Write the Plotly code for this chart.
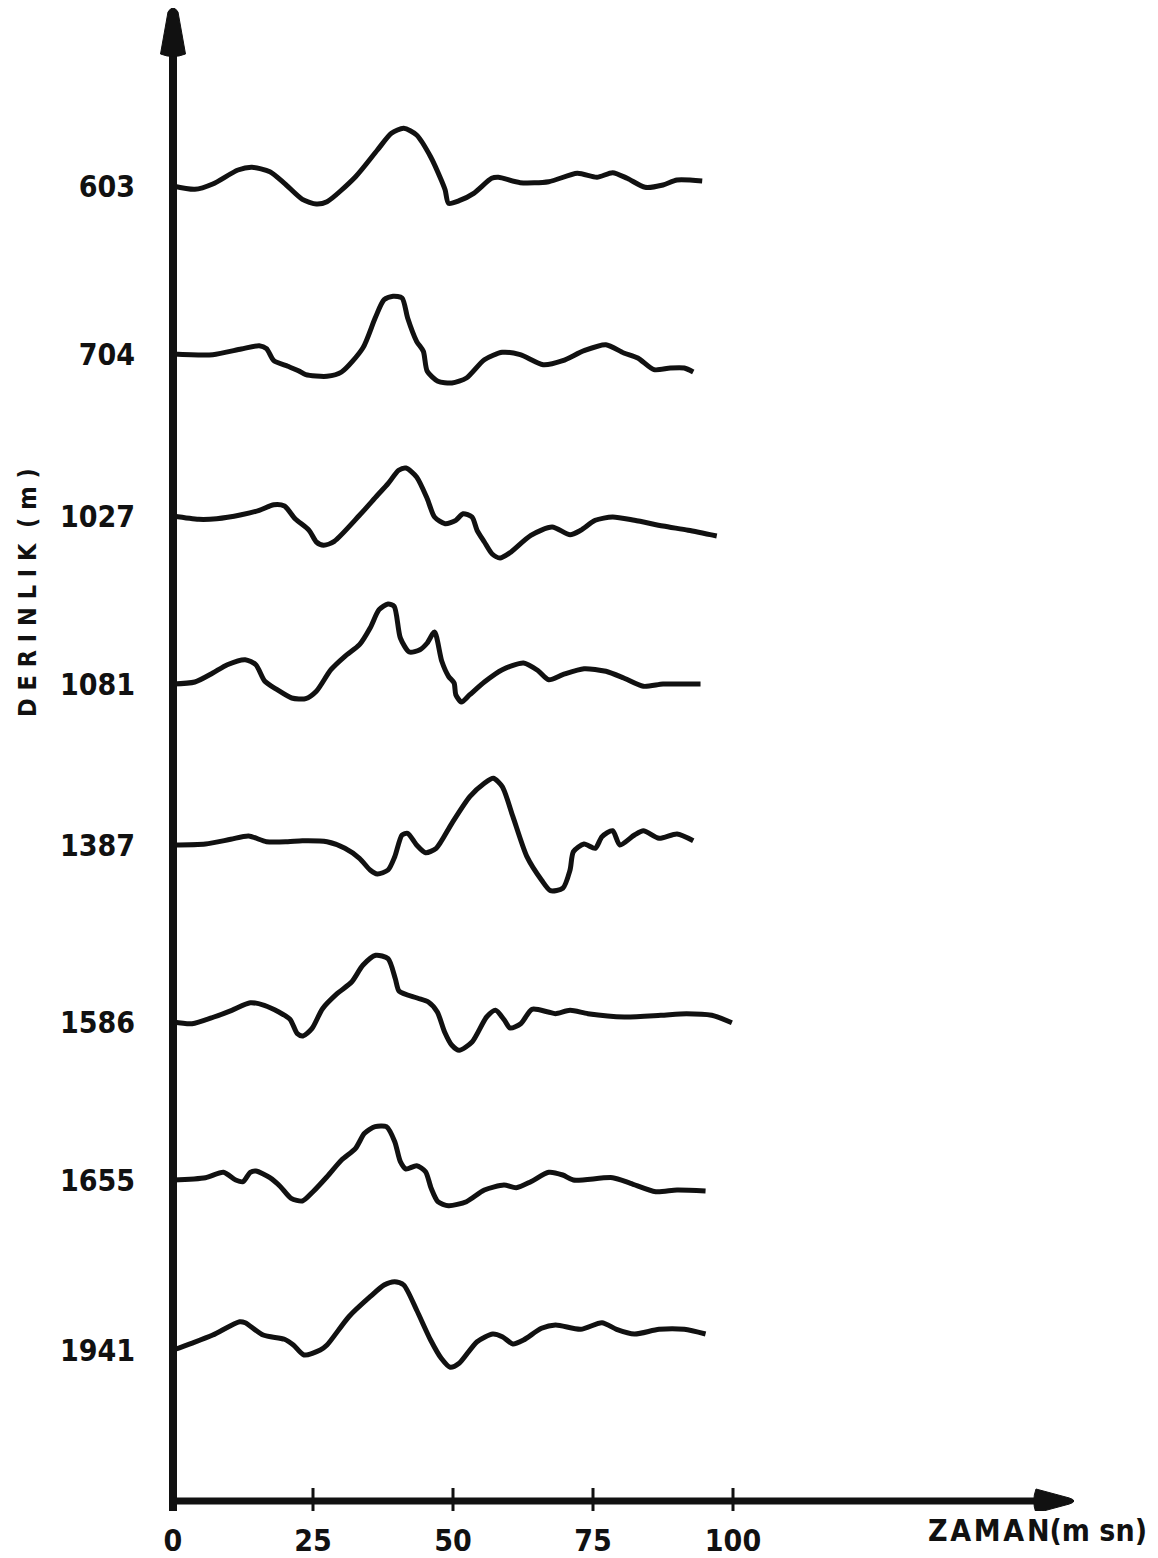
import plotly.graph_objects as go

# ---------------- data (time in ms, amplitude in plot units) ----------------
depths = ["603", "704", "1027", "1081", "1387", "1586", "1655", "1941"]
time_ticks = [0, 25, 50, 75, 100]
time_tick_text = ["0", "25", "50", "75", "100"]

t_603 = [0, 3.9, 7.1, 11.6, 14.1, 17.3, 19.9, 23.1, 25.6, 27.5, 32.6, 36.5, 39.0, 41.2, 43.5, 46.0, 47.9, 48.6,
         49.2, 51.1, 53.7, 56.9, 58.1, 62.0, 67.1, 72.2, 75.7, 78.5, 81.1, 84.3, 87.5, 90.0, 94.5]
a_603 = [0, -3.3, 2, 16, 18.7, 14.3, 2.7, -13.3, -18, -15.7, 9.3, 36, 52.7, 57.7, 51, 29.3, 6, -4,
         -17.3, -14.7, -7.3, 7.7, 8.7, 3.3, 4.3, 12.7, 8.7, 13.3, 7.7, -1.3, 1, 6, 5]

t_704 = [0, 7.1, 12.2, 15.4, 16.7, 18.0, 20.5, 22.4, 23.7, 27.5, 30.1, 33.9, 36.1, 37.7, 39.3, 40.9, 41.9, 43.5,
         44.7, 45.4, 47.3, 49.8, 52.4, 55.6, 58.8, 62.0, 66.1, 69.6, 73.4, 77.3, 80.5, 83.0, 85.9, 88.8, 91.3, 92.9]
a_704 = [0, -0.7, 5, 8.3, 5.3, -6.7, -12.3, -16.7, -20.7, -22.3, -18, 6, 36, 54.3, 57.7, 56, 36, 12.7,
         2.7, -17.3, -27.3, -29, -24, -5.7, 1.7, -0.7, -10.7, -6.7, 3.3, 9.3, 1, -4, -15.7, -14, -14, -18]

t_1027 = [0, 4.6, 7.8, 12.2, 15.4, 18.0, 19.9, 21.8, 24.3, 25.6, 26.9, 28.8, 33.3, 36.5, 38.4, 40.3, 41.6, 43.5,
          45.4, 46.7, 48.6, 50.5, 51.8, 53.4, 54.3, 55.6, 57.0, 58.4, 60.1, 63.9, 67.7, 70.9, 72.8, 75.4, 78.5,
          82.4, 87.5, 92.0, 97.1]
a_1027 = [0, -3.3, -2.7, 1.3, 5.7, 11.3, 10, -2.7, -14.3, -26, -29.3, -25.3, 0.7, 20.7, 32.3, 45.7, 48, 39,
          17.3, -1, -7.7, -4.3, 2.3, -1, -14.3, -26, -38, -42, -37, -19.3, -11, -18.7, -14.3, -4.3, -1,
          -4.3, -10, -14.3, -20]

t_1081 = [0, 3.9, 7.1, 9.7, 12.9, 14.8, 16.4, 18.6, 21.2, 23.7, 25.6, 28.2, 30.7, 33.3, 35.2, 36.8, 38.4, 39.5,
          40.6, 42.2, 44.1, 45.4, 46.7, 48.0, 49.2, 50.2, 50.5, 51.5, 53.0, 55.6, 58.8, 62.6, 65.2, 67.1, 69.6,
          73.4, 77.3, 80.5, 84.0, 87.5, 91.3, 94.2]
a_1081 = [0, 2, 11, 19.3, 24.3, 19.3, 2.7, -5.7, -14, -14.7, -7.3, 14.3, 27.7, 39.3, 56, 74.3, 80, 77.7,
          46, 32, 34.3, 41, 52, 22.7, 7.7, 1, -10.7, -18, -10.7, 2, 14.3, 21, 13.3, 4.3, 9.3,
          15.3, 12.7, 6, -2.3, 0, 0, 0]

t_1387 = [0, 5.8, 10.3, 13.5, 16.7, 20.5, 23.1, 27.5, 30.7, 33.3, 35.2, 36.5, 38.4, 39.6, 40.9, 41.9, 43.5, 45.1,
          47.0, 49.8, 53.0, 55.6, 57.2, 58.8, 60.7, 63.2, 65.8, 67.4, 69.6, 70.9, 71.5, 73.4, 75.4, 76.6, 78.5,
          79.8, 82.4, 84.0, 86.8, 90.0, 92.9]
a_1387 = [0, 1, 5.7, 9, 3.3, 3.3, 4.3, 3.3, -3.3, -13.3, -25, -29, -25, -11.7, 10, 11.7, 0, -7.7,
          -3.3, 21.7, 48.3, 61.7, 66.7, 58.3, 28.3, -11.7, -35, -45.7, -43.3, -25, -6.7, 1, -3.3, 8.3, 14.3,
          0, 10, 14.3, 6.7, 11, 4.3]

t_1586 = [0, 3.4, 7.3, 10.5, 13.8, 16.3, 18.9, 20.9, 22.2, 23.2, 24.8, 26.7, 29.3, 31.9, 33.9, 36.2, 38.4, 39.7,
          40.4, 43.6, 45.6, 47.2, 48.5, 49.8, 51.1, 53.4, 56.0, 57.6, 59.2, 60.2, 62.1, 64.1, 67.0, 68.3, 70.9,
          74.1, 80.6, 87.1, 91.7, 96.2, 99.8]
a_1586 = [0, -1.7, 5, 11.7, 19.3, 16.7, 10, 2.7, -11.7, -14, -6.7, 13.3, 28.3, 40, 56.7, 66.7, 63.3, 43.3,
          30.7, 24, 20, 10, -10, -23.3, -28.3, -20, 5, 11.7, 1.7, -6, -1.7, 12.7, 10, 8.3, 11.7,
          8.3, 5, 6.7, 8.3, 6.7, -0.7]

t_1655 = [0, 5.8, 9.0, 11.2, 12.5, 13.8, 14.8, 17.3, 19.2, 21.1, 23.1, 25.0, 27.5, 30.1, 32.6, 34.2, 36.1, 38.1,
          39.6, 40.6, 41.6, 43.5, 45.1, 46.1, 47.3, 49.2, 52.4, 55.6, 59.1, 61.3, 63.9, 67.1, 69.6, 71.5, 78.5,
          81.7, 86.2, 90.0, 95.1]
a_1655 = [0, 2.3, 7.7, 0, -1.7, 7.7, 9, 2.3, -6.7, -18.3, -21, -11.7, 3.3, 20, 31.7, 46.7, 53.3, 53.3,
          38.3, 18.3, 11, 14.3, 8.3, -8.3, -21.7, -25.7, -21.7, -10, -5, -7.7, -1.7, 7.7, 5, 0, 2.3,
          -3.3, -11.7, -10, -11]

t_1941 = [0, 3.3, 7.1, 11.9, 12.9, 16.1, 19.9, 21.5, 23.4, 26.3, 27.5, 31.4, 35.2, 37.7, 39.6, 41.2, 43.5, 46.0,
          47.9, 49.5, 51.1, 54.3, 57.1, 58.8, 60.7, 62.6, 65.8, 68.3, 72.8, 76.6, 79.2, 82.4, 86.8, 91.3, 95.1]
a_1941 = [0, 6.7, 15, 28.3, 27.3, 15, 10.7, 5, -5, 0, 5, 33.3, 53.3, 65, 68.3, 65, 40, 10,
          -8.3, -17.3, -13.3, 8.3, 16, 13.3, 6, 10, 21.7, 25, 20.7, 27.3, 20.7, 16, 20.7, 20.7, 16]

times = [t_603, t_704, t_1027, t_1081, t_1387, t_1586, t_1655, t_1941]
amps = [a_603, a_704, a_1027, a_1081, a_1387, a_1586, a_1655, a_1941]

# ---------------- layout constants (page pixels; the page body adds an 8 px margin) ----------------
OFF = 8
W, H = 1158 - OFF, 1558 - OFF
BASE_ROW = [186, 354, 516, 684, 845, 1022, 1180, 1350]   # baseline rows of the traces (page px)
AXIS_COL, AXIS_ROW = 173, 1501                            # page position of the axes' origin
PX_PER_MS = 5.6
PLOT_L, PLOT_R, PLOT_T, PLOT_B = 160, 1080, 8, 1511       # page px of the plotting area
ML, MR, MT, MB = PLOT_L - OFF, W - (PLOT_R - OFF), PLOT_T - OFF, H - (PLOT_B - OFF)

x_lo = (PLOT_L - AXIS_COL) / PX_PER_MS
x_hi = (PLOT_R - AXIS_COL) / PX_PER_MS
y_lo = AXIS_ROW - PLOT_B
y_hi = AXIS_ROW - PLOT_T

INK = "#111111"
FONT = "DejaVu Sans Condensed"


def row_to_y(row):
    return AXIS_ROW - row


def col_to_x(col):
    return (col - AXIS_COL) / PX_PER_MS


def paper_x(col):
    return (col - PLOT_L) / (PLOT_R - PLOT_L)


def paper_y(row):
    return (PLOT_B - row) / (PLOT_B - PLOT_T)


fig = go.Figure()
for d, tt, aa, row in zip(depths, times, amps, BASE_ROW):
    base = row_to_y(row)
    fig.add_trace(go.Scatter(
        x=tt, y=[base + a for a in aa], mode="lines", name=d,
        line=dict(color=INK, width=5, shape="spline", smoothing=0.7),
        hoverinfo="skip", showlegend=False))

shapes = []
# vertical (depth) axis with arrow
shapes.append(dict(type="line", xref="x", yref="y", x0=0, x1=0, y0=y_lo, y1=row_to_y(50),
                   line=dict(color=INK, width=8)))
hw = 12.5 / PX_PER_MS
tw = 5 / PX_PER_MS
yb, yt = row_to_y(54), row_to_y(12)
shapes.append(dict(type="path", xref="x", yref="y",
                   path=f"M {-hw},{yb} L {-tw},{yt} Q 0,{yt+8} {tw},{yt} L {hw},{yb} Q 0,{yb-5} {-hw},{yb} Z",
                   fillcolor=INK, line=dict(color=INK, width=1)))
# horizontal (time) axis with arrow
x_tip = col_to_x(1075)
x_base = col_to_x(1036)
shapes.append(dict(type="line", xref="x", yref="y", x0=0, x1=x_base + 1, y0=0, y1=0,
                   line=dict(color=INK, width=7)))
shapes.append(dict(type="path", xref="x", yref="y",
                   path=f"M {x_base},{-12} L {x_tip-1},{-3} Q {x_tip+0.6},0 {x_tip-1},3 L {x_base},12 Q {x_base-0.8},0 {x_base},-12 Z",
                   fillcolor=INK, line=dict(color=INK, width=1)))
for tv in time_ticks[1:]:
    shapes.append(dict(type="line", xref="x", yref="y", x0=tv, x1=tv, y0=-10, y1=13,
                       line=dict(color=INK, width=3)))

annotations = [
    dict(text="Z\u200aA\u200aM\u200aA\u200aN(m sn)", xref="paper", yref="paper",
         x=paper_x(1149), y=paper_y(1531), xanchor="right", yanchor="middle",
         showarrow=False, font=dict(family=FONT, size=30, color=INK, weight="bold")),
    dict(text="D E R I N L I K  ( m )", xref="paper", yref="paper",
         x=paper_x(28), y=paper_y(593), xanchor="center", yanchor="middle",
         textangle=-90, showarrow=False, font=dict(family=FONT, size=25, color=INK, weight="bold")),
]

fig.update_layout(
    width=W, height=H, margin=dict(l=ML, r=MR, t=MT, b=MB, pad=0, autoexpand=False),
    paper_bgcolor="white", plot_bgcolor="white",
    xaxis=dict(range=[x_lo, x_hi], showgrid=False, zeroline=False, showline=False,
               tickvals=time_ticks, ticktext=time_tick_text, ticks="", ticklabelstandoff=9,
               tickfont=dict(family=FONT, size=30, color=INK, weight="bold"), fixedrange=True),
    yaxis=dict(range=[y_lo, y_hi], showgrid=False, zeroline=False, showline=False,
               tickvals=[row_to_y(r) for r in BASE_ROW], ticktext=depths, ticks="",
               ticklabelstandoff=24,
               tickfont=dict(family=FONT, size=30, color=INK, weight="bold"), fixedrange=True),
    shapes=shapes, annotations=annotations,
)

fig.write_html("out.html")
